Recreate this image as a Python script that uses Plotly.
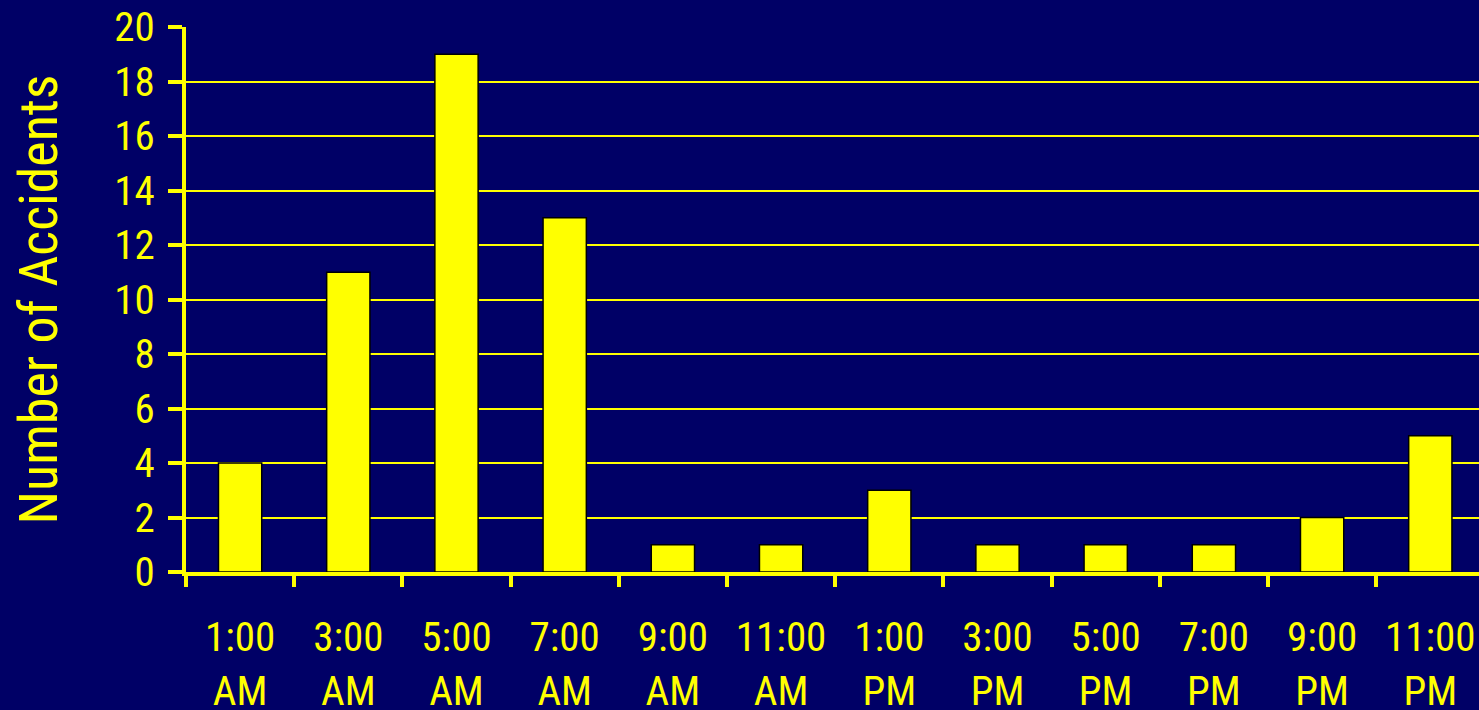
import plotly.graph_objects as go

categories = ["1:00<br>AM", "3:00<br>AM", "5:00<br>AM", "7:00<br>AM", "9:00<br>AM", "11:00<br>AM",
              "1:00<br>PM", "3:00<br>PM", "5:00<br>PM", "7:00<br>PM", "9:00<br>PM", "11:00<br>PM"]
accidents = [4, 11, 19, 13, 1, 1, 3, 1, 1, 1, 2, 5]
y_ticks = [0, 2, 4, 6, 8, 10, 12, 14, 16, 18, 20]

BG = "#000066"
YEL = "#FFFF00"
FONT = "Liberation Sans Narrow, Arial Narrow, Roboto Condensed, sans-serif"

fig = go.Figure(go.Bar(
    x=categories, y=accidents, width=0.4,
    marker=dict(color=YEL, line=dict(color="black", width=1.5)),
))

fig.update_layout(
    width=1479, height=710,
    paper_bgcolor=BG, plot_bgcolor=BG,
    margin=dict(l=186, r=0, t=27, b=138),
    font=dict(family=FONT, color=YEL, size=40),
    showlegend=False,
    bargap=0.6,
)
fig.update_xaxes(
    type="category", range=[-0.5, 11.45], automargin=False,
    showline=True, linecolor=YEL, linewidth=4,
    ticks="outside", tickson="boundaries", ticklen=11, tickwidth=4, tickcolor=YEL,
    showgrid=False, tickfont=dict(size=41, color=YEL, family=FONT),
    ticklabelstandoff=26,
)
fig.update_yaxes(
    range=[0, 20], tickvals=y_ticks, automargin=False,
    showline=True, linecolor=YEL, linewidth=4,
    ticks="outside", ticklen=14, tickwidth=4, tickcolor=YEL,
    showgrid=True, gridcolor=YEL, gridwidth=2,
    zeroline=False,
    tickfont=dict(size=41, color=YEL, family=FONT),
    ticklabelstandoff=5,
    title=dict(text="Number of Accidents", font=dict(size=54, color=YEL, family=FONT), standoff=40),
)

fig.write_html("out.html")
